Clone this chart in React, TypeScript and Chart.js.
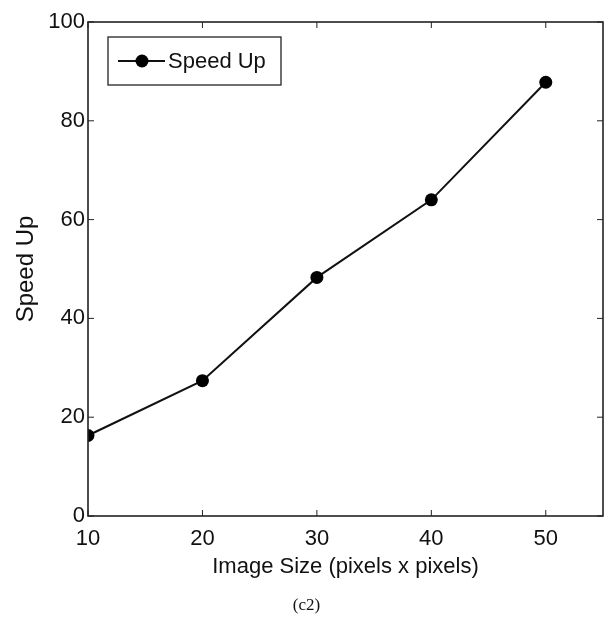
import React, { useEffect, useRef } from "react";
import { Chart, registerables } from "chart.js";

Chart.register(...registerables);

const imageSizes = [10, 20, 30, 40, 50];
const speedUp = [16.3, 27.4, 48.3, 64.0, 87.8];
const xTicks = [10, 20, 30, 40, 50];
const yTicks = [0, 20, 40, 60, 80, 100];
const seriesLabel = "Speed Up";
const xTitle = "Image Size (pixels x pixels)";
const yTitle = "Speed Up";
const caption = "(c2)";

const FONT = "'Liberation Sans', Arial, sans-serif";

const framePlugin = {
  id: "frameAndLegend",
  afterDraw(chart: any) {
    const { ctx, chartArea, scales } = chart;
    const { left, right, top, bottom } = chartArea;
    ctx.save();
    ctx.strokeStyle = "#222";
    ctx.lineWidth = 1.6;
    ctx.strokeRect(left, top, right - left, bottom - top);
    const tl = 6;
    ctx.lineWidth = 1;
    scales.x.ticks.forEach((t: any) => {
      const x = scales.x.getPixelForValue(t.value);
      ctx.beginPath();
      ctx.moveTo(x, bottom);
      ctx.lineTo(x, bottom - tl);
      ctx.moveTo(x, top);
      ctx.lineTo(x, top + tl);
      ctx.stroke();
    });
    scales.y.ticks.forEach((t: any) => {
      const y = scales.y.getPixelForValue(t.value);
      ctx.beginPath();
      ctx.moveTo(left, y);
      ctx.lineTo(left + tl, y);
      ctx.moveTo(right, y);
      ctx.lineTo(right - tl, y);
      ctx.stroke();
    });
    // legend
    const bx = left + 20;
    const by = top + 15;
    const bw = 173;
    const bh = 48;
    ctx.fillStyle = "#fff";
    ctx.fillRect(bx, by, bw, bh);
    ctx.strokeStyle = "#333";
    ctx.lineWidth = 1.4;
    ctx.strokeRect(bx, by, bw, bh);
    const ly = by + bh / 2;
    ctx.strokeStyle = "#111";
    ctx.lineWidth = 2;
    ctx.beginPath();
    ctx.moveTo(bx + 10, ly);
    ctx.lineTo(bx + 57, ly);
    ctx.stroke();
    ctx.fillStyle = "#000";
    ctx.beginPath();
    ctx.arc(bx + 34, ly, 6.5, 0, Math.PI * 2);
    ctx.fill();
    ctx.font = `22px ${FONT}`;
    ctx.textAlign = "left";
    ctx.textBaseline = "middle";
    ctx.fillStyle = "#111";
    ctx.fillText(seriesLabel, bx + 60, ly + 1);
    // caption
    ctx.font = `17px 'Liberation Serif', 'DejaVu Serif', serif`;
    ctx.textAlign = "center";
    ctx.fillText(caption, chart.width / 2, 606);
    ctx.restore();
  },
};

export default function App() {
  const ref = useRef<HTMLCanvasElement>(null);
  useEffect(() => {
    if (!ref.current) return;
    const chart = new Chart(ref.current, {
      type: "line",
      data: {
        datasets: [
          {
            label: seriesLabel,
            data: imageSizes.map((x, i) => ({ x, y: speedUp[i] })),
            borderColor: "#111",
            backgroundColor: "#000",
            borderWidth: 2,
            pointRadius: 6.5,
            pointStyle: "circle",
            pointBorderWidth: 0,
            tension: 0,
          },
        ],
      },
      options: {
        animation: false,
        responsive: false,
        layout: { padding: { left: 0, right: 10, top: 22, bottom: 50 } },
        plugins: { legend: { display: false }, tooltip: { enabled: false } },
        scales: {
          x: {
            type: "linear",
            min: 10,
            max: 55,
            afterBuildTicks: (s: any) => {
              s.ticks = xTicks.map((v) => ({ value: v }));
            },
            afterFit: (s: any) => {
              s.height = 64;
            },
            grid: { display: false, drawTicks: false },
            border: { display: false },
            ticks: { color: "#111", font: { family: FONT, size: 22 }, padding: 10, maxRotation: 0 },
            title: {
              display: true,
              text: xTitle,
              color: "#111",
              font: { family: FONT, size: 22 },
              padding: { top: 0, bottom: 0 },
            },
          },
          y: {
            type: "linear",
            min: 0,
            max: 100,
            afterBuildTicks: (s: any) => {
              s.ticks = yTicks.map((v) => ({ value: v }));
            },
            afterFit: (s: any) => {
              s.width = 88;
            },
            grid: { display: false, drawTicks: false },
            border: { display: false },
            ticks: { color: "#111", font: { family: FONT, size: 22 }, padding: 3 },
            title: {
              display: true,
              text: yTitle,
              color: "#111",
              font: { family: FONT, size: 24 },
              padding: { top: 12, bottom: 0 },
            },
          },
        },
      },
      plugins: [framePlugin],
    } as any);
    return () => chart.destroy();
  }, []);
  return (
    <div style={{ position: "absolute", left: 0, top: 0, width: 613, height: 630, background: "#fff" }}>
      <canvas ref={ref} width={613} height={630} style={{ display: "block" }} />
    </div>
  );
}
